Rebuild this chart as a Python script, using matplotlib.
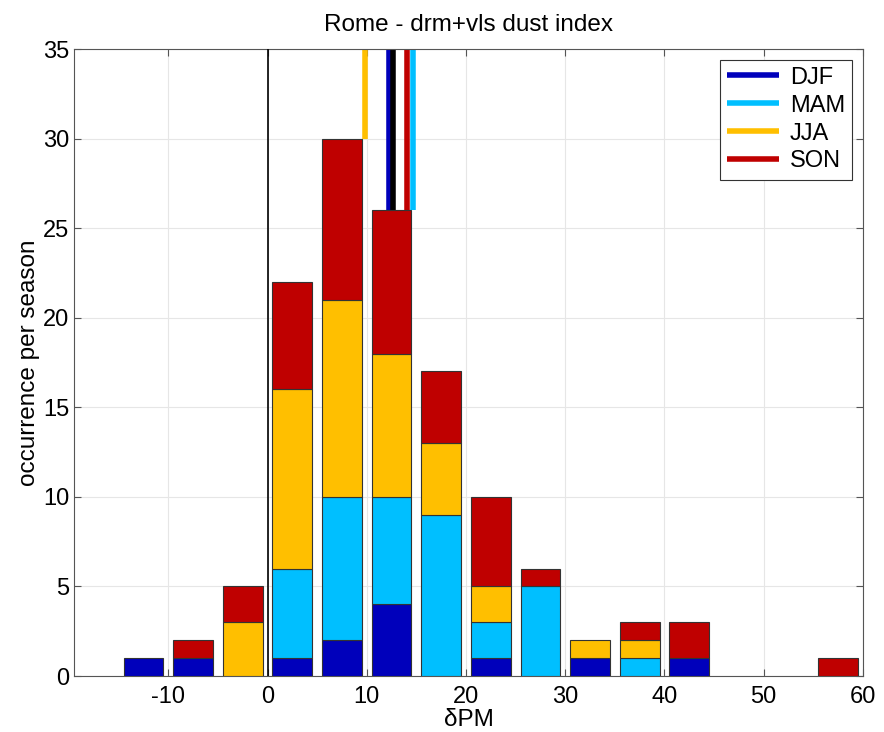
import matplotlib.pyplot as plt
import numpy as np

plt.rcParams['font.family'] = ['Liberation Sans', 'DejaVu Sans']

# centres of the 5-unit dPM bins
centres = [-12.5, -7.5, -2.5, 2.5, 7.5, 12.5, 17.5, 22.5, 27.5, 32.5, 37.5, 42.5, 47.5, 52.5, 57.5]

djf = [1, 1, 0, 1, 2, 4, 0, 1, 0, 1, 0, 1, 0, 0, 0]
mam = [0, 0, 0, 5, 8, 6, 9, 2, 5, 0, 1, 0, 0, 0, 0]
jja = [0, 0, 3, 10, 11, 8, 4, 2, 0, 1, 1, 0, 0, 0, 0]
son = [0, 1, 2, 6, 9, 8, 4, 5, 1, 0, 1, 2, 0, 0, 1]

estaciones = ["DJF", "MAM", "JJA", "SON"]
colores = ["#0000BB", "#00BFFF", "#FFBF00", "#BF0000"]

# media de dPM por estacion y total
medias = {"DJF": 12.2, "MAM": 14.7, "JJA": 9.8, "SON": 14.1}
media_total = 12.6

fig, ax = plt.subplots(figsize=(8.84, 7.32), dpi=100)
fig.subplots_adjust(left=0.0837, right=0.9762, top=0.933, bottom=0.0765)

series = [djf, mam, jja, son]
base = np.zeros(len(centres))
for datos, col in zip(series, colores):
    d = np.array(datos, dtype=float)
    m = d > 0
    ax.bar(np.array(centres)[m], d[m], width=4, bottom=base[m], color=col,
           edgecolor="#333333", linewidth=0.8, zorder=3)
    base = base + d

total = base


def altura_en(x):
    for c, t in zip(centres, total):
        if abs(x - c) <= 2.5:
            return t
    return 0


ax.axvline(0, color="k", linewidth=1.2, zorder=4)
lineas = []
for est, col in zip(estaciones, colores):
    x = medias[est]
    ln, = ax.plot([x, x], [altura_en(x), 35], color=col, linewidth=4, zorder=2,
                  solid_capstyle="butt", label=est)
    lineas.append(ln)
ax.plot([media_total, media_total], [altura_en(media_total), 35], color="k",
        linewidth=4, zorder=2, solid_capstyle="butt")

ax.set_xlim(-19.5, 60)
ax.set_ylim(0, 35)
xt = list(range(-10, 61, 10))
ax.set_xticks(xt)
ax.set_xticklabels([str(v) for v in xt])
ax.set_yticks(range(0, 36, 5))
ax.grid(True, color="#E6E6E6", linewidth=0.8, zorder=0)
ax.set_axisbelow(True)
ax.tick_params(direction="in", top=True, right=True, labelsize=17, length=5,
               color="#555555")
ax.tick_params(axis="x", pad=7)
for sp in ax.spines.values():
    sp.set_color("#555555")

ax.set_title("Rome - drm+vls dust index", fontsize=17.5, pad=13)
ax.set_xlabel("δPM", fontsize=17.5, labelpad=1)
ax.set_ylabel("occurrence per season", fontsize=17.5, labelpad=2)

leg = ax.legend(handles=lineas, loc="upper right", fontsize=17, handlelength=2.2,
                handletextpad=0.45, fancybox=False, edgecolor="#333333", framealpha=1,
                borderaxespad=0.45, labelspacing=0.25, borderpad=0.3)
leg.get_frame().set_linewidth(0.8)

plt.savefig("out.png", dpi=100)
